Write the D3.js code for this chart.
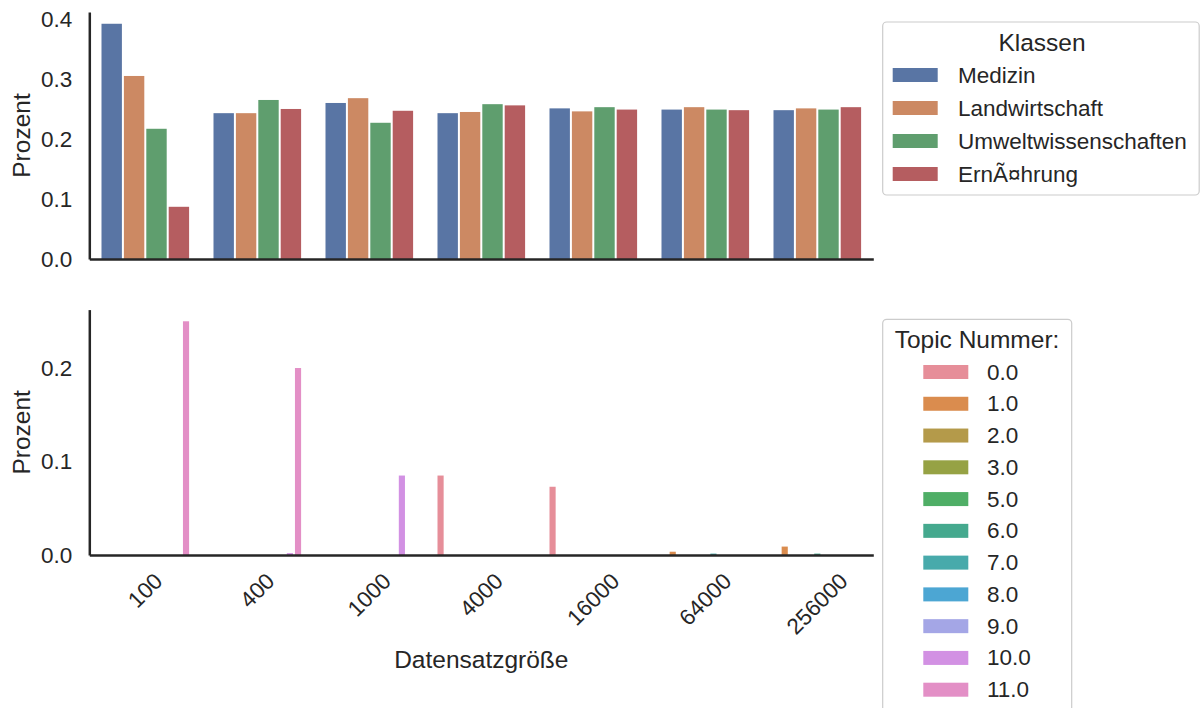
<!DOCTYPE html>
<html>
<head>
<meta charset="utf-8">
<script src="https://cdn.jsdelivr.net/npm/d3@7"></script>
<style>
  body { margin: 0; background: #ffffff; }
  svg { display: block; }
  text { font-family: "Liberation Sans", Arial, sans-serif; fill: #262626; }
</style>
</head>
<body>
<svg id="chart" width="1200" height="708"></svg>
<script>
// Dataset sizes (x categories)
const sizes = ["100", "400", "1000", "4000", "16000", "64000", "256000"];

// Top panel: share of each class per dataset size
const klassen = ["Medizin", "Landwirtschaft", "Umweltwissenschaften", "ErnÃ¤hrung"];
const klassenColors = ["#5975a4", "#cc8963", "#5f9e6e", "#b55d60"];
const medizin        = [0.392, 0.243, 0.260, 0.243, 0.251, 0.249, 0.248];
const landwirtschaft = [0.305, 0.243, 0.268, 0.245, 0.246, 0.253, 0.251];
const umwelt         = [0.217, 0.265, 0.227, 0.258, 0.253, 0.249, 0.249];
const ernaehrung     = [0.087, 0.250, 0.247, 0.256, 0.249, 0.248, 0.253];
const klassenValues = [medizin, landwirtschaft, umwelt, ernaehrung];
const topTicks = [0.0, 0.1, 0.2, 0.3, 0.4];

// Bottom panel: share of each topic per dataset size
const topics = ["0.0", "1.0", "2.0", "3.0", "5.0", "6.0", "7.0", "8.0", "9.0", "10.0", "11.0"];
const topicColors = ["#e68e99", "#da8c4e", "#b49a4a", "#96a244", "#4fae66", "#45a98e",
                     "#48aaab", "#4ca6d3", "#a4a6e6", "#d291e3", "#e38fc6"];
const topic0  = [0, 0, 0, 0.085, 0.073, 0, 0];
const topic1  = [0, 0, 0, 0, 0, 0.0035, 0.009];
const topic2  = [0, 0, 0, 0, 0, 0, 0];
const topic3  = [0, 0, 0, 0, 0, 0, 0];
const topic5  = [0, 0, 0, 0, 0, 0, 0];
const topic6  = [0, 0, 0, 0, 0, 0, 0.0015];
const topic7  = [0, 0, 0, 0, 0, 0.0015, 0];
const topic8  = [0, 0, 0, 0, 0, 0, 0];
const topic9  = [0, 0, 0, 0, 0, 0, 0];
const topic10 = [0, 0.002, 0.085, 0, 0, 0, 0];
const topic11 = [0.25, 0.20, 0, 0, 0, 0, 0];
const topicValues = [topic0, topic1, topic2, topic3, topic5, topic6, topic7,
                     topic8, topic9, topic10, topic11];
const bottomTicks = [0.0, 0.1, 0.2];

const svg = d3.select("#chart");
const axisColor = "#262626";

const left = 89.3, right = 873.3;
const x0 = d3.scaleBand().domain(sizes).range([left, right]).padding(0);
const bw = x0.bandwidth();

function panel(cfg) {
  const g = svg.append("g");
  const y = d3.scaleLinear().domain([0, cfg.max]).range([cfg.base, cfg.top]);
  const xi = d3.scaleBand().domain(cfg.hues).range([0.1 * bw, 0.9 * bw]).padding(0);

  const rows = [];
  cfg.values.forEach((series, h) => {
    series.forEach((v, i) => {
      if (v > 0) rows.push({ size: sizes[i], hue: cfg.hues[h], color: cfg.colors[h], v });
    });
  });

  g.selectAll("rect.bar").data(rows).join("rect")
    .attr("class", "bar")
    .attr("x", d => x0(d.size) + xi(d.hue) + 1)
    .attr("width", xi.bandwidth() - 2)
    .attr("y", d => y(d.v))
    .attr("height", d => y(0) - y(d.v))
    .attr("fill", d => d.color);

  const ya = g.append("g")
    .attr("transform", `translate(${left},0)`)
    .call(d3.axisLeft(y).tickValues(cfg.ticks).tickFormat(d3.format(".1f"))
      .tickSize(0).tickSizeOuter(0).tickPadding(17));
  ya.select(".domain").attr("stroke", axisColor).attr("stroke-width", 2.5);
  ya.selectAll(".tick text").attr("font-size", 22.5).attr("fill", axisColor)
    .style("font-family", '"Liberation Sans", Arial, sans-serif');

  const xa = g.append("g")
    .attr("transform", `translate(0,${cfg.base})`)
    .call(d3.axisBottom(x0).tickSize(0).tickSizeOuter(0).tickFormat(cfg.labels ? d => d : ""));
  xa.select(".domain").attr("stroke", axisColor).attr("stroke-width", 2.5);

  if (cfg.labels) {
    // rotated labels, their bounding box centred under each tick
    const topY = 14;
    xa.selectAll(".tick text").each(function () {
      const t = d3.select(this)
        .attr("font-size", 22.5).attr("fill", axisColor)
        .style("font-family", '"Liberation Sans", Arial, sans-serif')
        .attr("text-anchor", "middle").attr("dy", null).attr("y", 0)
        .attr("dominant-baseline", "central");
      const w = this.getComputedTextLength();
      const h = 22.5 * 1.05;
      const side = (w + h) / Math.SQRT2;
      t.attr("transform", `translate(0,${topY + side / 2}) rotate(-45)`);
    });
  } else {
    xa.selectAll(".tick text").remove();
  }

  svg.append("text")
    .attr("transform", `translate(21,${(cfg.top + cfg.base) / 2}) rotate(-90)`)
    .attr("text-anchor", "middle").attr("dominant-baseline", "central")
    .attr("font-size", 24.5).text("Prozent");
  return y;
}

panel({ values: klassenValues, hues: klassen, colors: klassenColors, max: 0.4116,
        base: 259, top: 12, ticks: topTicks, labels: false });
panel({ values: topicValues, hues: topics, colors: topicColors, max: 0.2625,
        base: 555, top: 309.6, ticks: bottomTicks, labels: true });

svg.append("text").attr("x", (left + right) / 2).attr("y", 668)
  .attr("text-anchor", "middle").attr("font-size", 24.5).text("Datensatzgröße");

// Legends
function legend(cfg) {
  const g = svg.append("g");
  g.append("rect").attr("x", cfg.x).attr("y", cfg.y).attr("width", cfg.w).attr("height", cfg.h)
    .attr("rx", 4).attr("fill", "#ffffff").attr("stroke", "#cccccc").attr("stroke-width", 1.2);
  g.append("text").attr("x", cfg.titleX).attr("y", cfg.titleY).attr("text-anchor", "middle")
    .attr("font-size", 24.5).text(cfg.title);
  const it = g.selectAll("g.item").data(cfg.labels).join("g").attr("class", "item")
    .attr("transform", (d, i) => `translate(0,${cfg.firstY + i * cfg.step})`);
  it.append("rect").attr("x", cfg.patchX).attr("y", -7).attr("width", 45).attr("height", 14)
    .attr("fill", (d, i) => cfg.colors[i]);
  it.append("text").attr("x", cfg.textX).attr("y", 0).attr("dominant-baseline", "central")
    .attr("font-size", 22.5).text(d => d);
}

legend({ x: 882.7, y: 22, w: 316.5, h: 173, title: "Klassen", titleX: 1042, titleY: 51,
         labels: klassen, colors: klassenColors, firstY: 75, step: 33, patchX: 892.7, textX: 958 });
legend({ x: 882.7, y: 319.3, w: 189, h: 420, title: "Topic Nummer:", titleX: 977, titleY: 348,
         labels: topics, colors: topicColors, firstY: 372, step: 31.77, patchX: 923.3, textX: 987 });
</script>
</body>
</html>
